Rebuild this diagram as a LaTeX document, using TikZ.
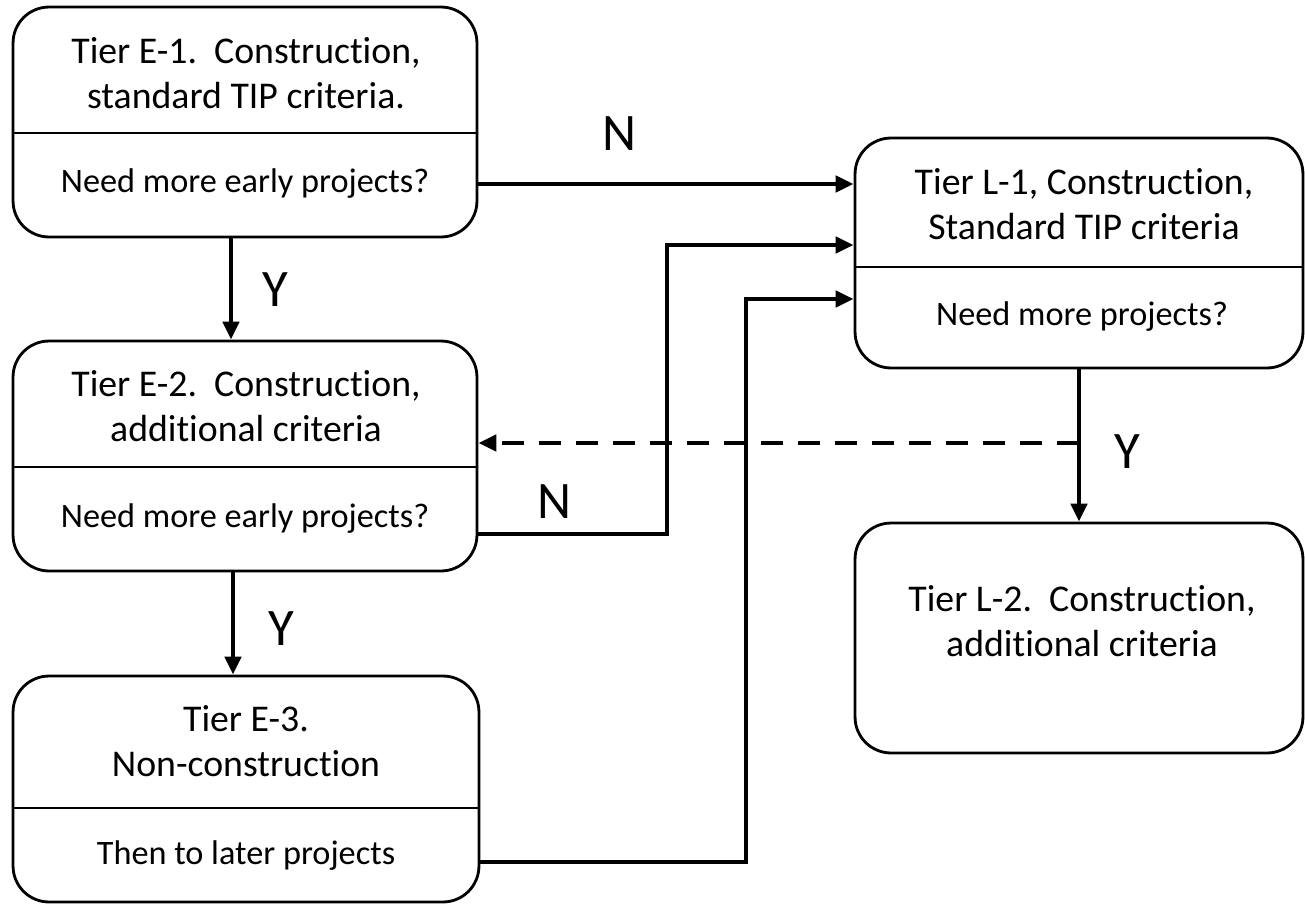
\documentclass[tikz,border=0pt]{standalone}
\usepackage{fontspec}
\setmainfont[Ligatures=NoCommon]{Carlito}
\usetikzlibrary{arrows.meta,calc}

\begin{document}
\begin{tikzpicture} [
                x=0.02cm, y=-0.02cm,
                tier/.style={draw,line width=1.6pt,rounded corners=0.72cm,minimum height=4.6cm,inner sep=0pt},
                divider/.style={draw,line width=1.6pt},
                heading/.style={align=center,font=\fontsize{21.5}{25.6}\selectfont},
                question/.style={font=\fontsize{19.5}{23}\selectfont},
                answer/.style={font=\fontsize{30}{36}\selectfont},
                flow/.style={draw,line width=2.8pt,-{Triangle[length=0.36cm,width=0.32cm]}},
                back flow/.style={flow,dash pattern=on 0.44cm off 0.3cm},
            ]
            \useasboundingbox (0,0) rectangle (1305,903);
            % First we draw the tiers
            \foreach \pos/\name/\w in {
                    {(245,122)/E1/9.28}, {(245,456)/E2/9.28},
                    {(1079,253)/L1/8.96}, {(1079,638)/L2/8.96}}
                \node[tier,minimum width=\w cm] (\name) at \pos {};
            \node[tier,minimum width=9.32cm,minimum height=4.52cm] (E3) at (246,789) {};
            % split the tiers with a rule
            \foreach \name/\y in {E1/133, E2/467, E3/808, L1/267}
                \path[divider] (\name.west |- 0,\y) -- (\name.east |- 0,\y);
            % texts of the tiers
            \node[heading] (E1t) at (246,73) {Tier E-1.~~Construction,\\standard TIP criteria.};
            \node[heading] (E2t) at (246,406) {Tier E-2.~~Construction,\\additional criteria};
            \node[heading] (E3t) at (246,741) {Tier E-3.\\Non-construction};
            \node[heading] (L1t) at (1084,204) {Tier L-1, Construction,\\Standard TIP criteria};
            \node[heading] (L2t) at (1082,621) {Tier L-2.~~Construction,\\additional criteria};
            \foreach \pos/\name/\q in {
                    {(245,184)/E1q/Need more early projects?},
                    {(245,519)/E2q/Need more early projects?},
                    {(246,856)/E3q/Then to later projects},
                    {(1082,317)/L1q/Need more projects?}}
                \node[question] (\name) at \pos {\q};
            % Connect tiers with arrows
            \path[flow] (E1.east |- 0,184) -- (L1.west |- 0,184);
            \path[flow] (231,0 |- E1.south) -- (231,0 |- E2.north);
            \path[flow] (233,0 |- E2.south) -- (233,0 |- E3.north);
            \path[flow] (E2.east |- 0,534) -| (667,245) -- (L1.west |- 0,245);
            \path[flow] (E3.east |- 0,862) -| (746,299) -- (L1.west |- 0,299);
            \path[flow] (L1.south) -- (L2.north);
            \coordinate (split) at (L1.south |- 0,443);
            \path[back flow] (split) -- (E2.east |- split);
            % answers
            \foreach \pos/\name/\a in {
                    {(620,134)/n1/N}, {(275,290)/y1/Y}, {(281,629)/y2/Y},
                    {(555,502)/n2/N}, {(1127,452)/y3/Y}}
                \node[answer] (\name) at \pos {\a};
        \end{tikzpicture}
\end{document}
